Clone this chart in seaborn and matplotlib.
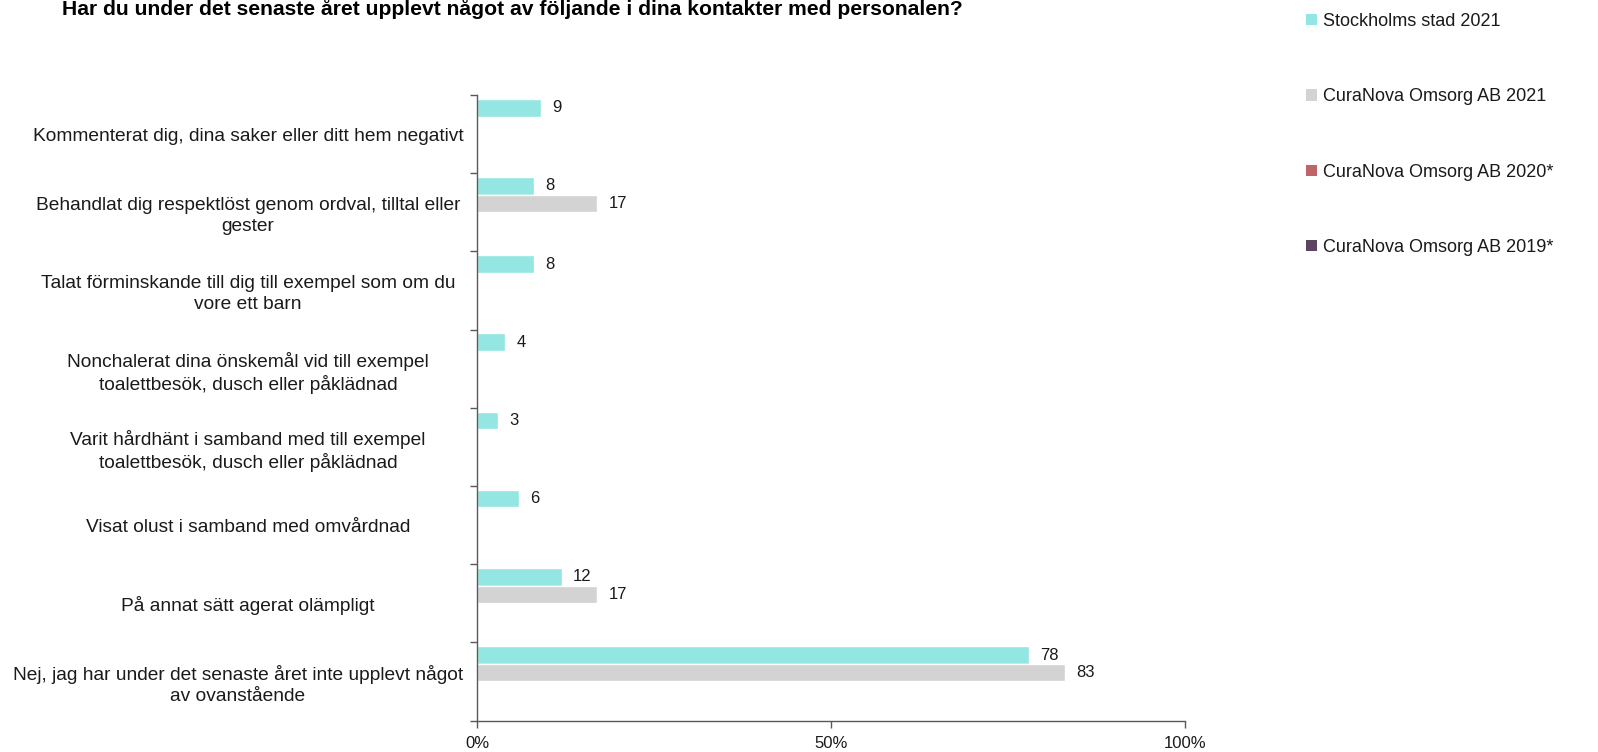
import numpy as np
import pandas as pd
import matplotlib
matplotlib.use("Agg")
import matplotlib.pyplot as plt
import matplotlib.transforms as mtransforms
import seaborn as sns
from matplotlib.patches import Patch

categories = [
    "Kommenterat dig, dina saker eller ditt hem negativt",
    "Behandlat dig respektlöst genom ordval, tilltal eller\ngester",
    "Talat förminskande till dig till exempel som om du\nvore ett barn",
    "Nonchalerat dina önskemål vid till exempel\ntoalettbesök, dusch eller påklädnad",
    "Varit hårdhänt i samband med till exempel\ntoalettbesök, dusch eller påklädnad",
    "Visat olust i samband med omvårdnad",
    "På annat sätt agerat olämpligt",
    "Nej, jag har under det senaste året inte upplevt något\nav ovanstående",
]
series = ["Stockholms stad 2021", "CuraNova Omsorg AB 2021",
          "CuraNova Omsorg AB 2020*", "CuraNova Omsorg AB 2019*"]
stockholm_2021 = [9, 8, 8, 4, 3, 6, 12, 78]
curanova_2021 = [np.nan, 17, np.nan, np.nan, np.nan, np.nan, 17, 83]
curanova_2020 = [np.nan] * 8
curanova_2019 = [np.nan] * 8
colors = ["#93E6E1", "#D3D3D3", "#C0636B", "#5F4461"]
xticks = [0, 50, 100]
xticklabels = ["0%", "50%", "100%"]
title = "Har du under det senaste året upplevt något av följande i dina kontakter med personalen?"

values = [stockholm_2021, curanova_2021, curanova_2020, curanova_2019]
rows = []
for s, vals in zip(series, values):
    for c, v in zip(categories, vals):
        rows.append({"cat": c, "series": s, "val": v})
df = pd.DataFrame(rows)

sns.set_style("white")
plt.rcParams["font.family"] = ["Liberation Sans", "DejaVu Sans"]
txt = "#1a1a1a"

fig = plt.figure(figsize=(15.98, 7.52), dpi=100)
ax = fig.add_axes([477 / 1598, 1 - 720.5 / 752, (1185 - 477) / 1598, (720.5 - 95) / 752])

sns.barplot(data=df, y="cat", x="val", hue="series", hue_order=series,
            order=categories, palette=colors, orient="h", width=0.9,
            saturation=1, ax=ax, legend=False, errorbar=None)

for cont in ax.containers:
    labels = []
    for bar in cont:
        w = bar.get_width()
        labels.append("" if (w is None or np.isnan(w) or w == 0) else f"{w:.0f}")
    ax.bar_label(cont, labels=labels, padding=8, fontsize=12, color=txt)

ax.set_xlim(0, 100)
ax.set_ylim(7.5, -0.5)
ax.set_xticks(xticks)
ax.set_xticklabels(xticklabels, fontsize=12, color=txt)
ax.set_yticks(range(len(categories)))
ax.set_yticklabels(categories, fontsize=13.8, color=txt, ha="center",
                   multialignment="center", linespacing=1.26)
ax.set_yticks(np.arange(-0.5, len(categories), 1), minor=True)
ax.tick_params(axis="y", which="major", length=0, pad=165)
ax.tick_params(axis="y", which="minor", length=5, color="#595959", width=1, direction="out", left=True)
ax.tick_params(axis="x", length=5, color="#595959", width=1, direction="out", bottom=True, pad=6)
ax.set_xlabel("")
ax.set_ylabel("")
for side in ["top", "right"]:
    ax.spines[side].set_visible(False)
for side in ["left", "bottom"]:
    ax.spines[side].set_color("#595959")
    ax.spines[side].set_linewidth(1)

# the longest label sits a little further left (kept clear of the axis)
last = ax.get_yticklabels()[-1]
last.set_transform(last.get_transform() + mtransforms.ScaledTranslation(-10 / 100, 0, fig.dpi_scale_trans))

handles = [Patch(facecolor=c, edgecolor="none") for c in colors]
fig.legend(handles, series, loc="upper left", bbox_to_anchor=(1306 / 1598, 1 - 13 / 752),
           frameon=False, fontsize=13, handlelength=0.6, handleheight=0.6,
           handletextpad=0.35, labelspacing=3.23, borderaxespad=0, borderpad=0,
           labelcolor=txt)

fig.text(512 / 1598, 1 - 9 / 752, title, ha="center", va="center",
         fontsize=15.2, fontweight="bold", color="#000000")

fig.savefig("out.png", dpi=100)
